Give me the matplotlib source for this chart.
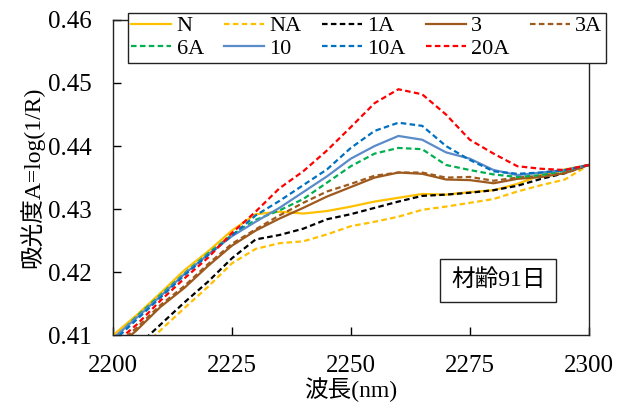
import matplotlib

matplotlib.use("Agg")
import matplotlib.pyplot as plt

SERIF_CJK = ["Liberation Serif", "Noto Sans CJK JP"]
plt.rcParams["font.family"] = SERIF_CJK

wavelength = [2200, 2205, 2210, 2215, 2220, 2225, 2230, 2235, 2240, 2245, 2250,
              2255, 2260, 2265, 2270, 2275, 2280, 2285, 2290, 2295, 2300]

abs_N = [0.4100, 0.4132, 0.4167, 0.4203, 0.4233, 0.4266, 0.4292, 0.4296, 0.4293, 0.4297, 0.4304,
         0.4312, 0.4318, 0.4324, 0.4323, 0.4327, 0.4330, 0.4340, 0.4354, 0.4363, 0.4370]
abs_NA = [0.4038, 0.4072, 0.4108, 0.4143, 0.4177, 0.4214, 0.4237, 0.4246, 0.4249, 0.4260, 0.4273,
          0.4280, 0.4288, 0.4299, 0.4304, 0.4310, 0.4316, 0.4328, 0.4338, 0.4347, 0.4370]
abs_1A = [0.4047, 0.4082, 0.4117, 0.4152, 0.4185, 0.4222, 0.4252, 0.4259, 0.4269, 0.4284, 0.4292,
          0.4302, 0.4312, 0.4321, 0.4323, 0.4326, 0.4330, 0.4337, 0.4348, 0.4357, 0.4370]
abs_3 = [0.4076, 0.4108, 0.4145, 0.4175, 0.4210, 0.4242, 0.4266, 0.4285, 0.4302, 0.4320, 0.4335,
         0.4350, 0.4358, 0.4356, 0.4347, 0.4346, 0.4341, 0.4348, 0.4351, 0.4357, 0.4370]
abs_3A = [0.4080, 0.4112, 0.4148, 0.4178, 0.4213, 0.4245, 0.4268, 0.4290, 0.4310, 0.4328, 0.4340,
          0.4353, 0.4358, 0.4358, 0.4350, 0.4351, 0.4345, 0.4350, 0.4353, 0.4358, 0.4370]
abs_6A = [0.4093, 0.4130, 0.4164, 0.4198, 0.4230, 0.4259, 0.4283, 0.4298, 0.4316, 0.4342, 0.4368,
          0.4388, 0.4397, 0.4395, 0.4370, 0.4362, 0.4355, 0.4351, 0.4354, 0.4361, 0.4370]
abs_10 = [0.4095, 0.4128, 0.4162, 0.4197, 0.4228, 0.4257, 0.4280, 0.4302, 0.4327, 0.4352, 0.4380,
          0.4400, 0.4416, 0.4410, 0.4390, 0.4380, 0.4362, 0.4354, 0.4358, 0.4362, 0.4370]
abs_10A = [0.4090, 0.4125, 0.4160, 0.4195, 0.4227, 0.4258, 0.4290, 0.4313, 0.4338, 0.4363, 0.4397,
           0.4424, 0.4437, 0.4432, 0.4400, 0.4378, 0.4360, 0.4356, 0.4358, 0.4362, 0.4370]
abs_20A = [0.4085, 0.4117, 0.4155, 0.4190, 0.4223, 0.4262, 0.4296, 0.4333, 0.4360, 0.4393, 0.4430,
           0.4468, 0.4490, 0.4482, 0.4450, 0.4410, 0.4388, 0.4368, 0.4364, 0.4362, 0.4370]

labels = ["N", "NA", "1A", "3", "3A", "6A", "10", "10A", "20A"]
values = [abs_N, abs_NA, abs_1A, abs_3, abs_3A, abs_6A, abs_10, abs_10A, abs_20A]
colors = ["#FFC000", "#FFC000", "#000000", "#9E5A1E", "#9E5A1E",
          "#00B050", "#5B8BC9", "#0070C0", "#FF0000"]
dashed = [False, True, True, False, True, True, False, True, True]

fig = plt.figure(figsize=(6.27, 4.05), dpi=100)
ax = fig.add_axes([0.180, 0.172, 0.759, 0.779])

handles = []
for name, ys, col, dash in zip(labels, values, colors, dashed):
    ls = (0, (2.5, 1.5)) if dash else "-"
    (line,) = ax.plot(wavelength, ys, color=col, lw=1.6, ls=ls, label=name)
    handles.append(line)

ax.set_xlim(2200, 2300)
ax.set_ylim(0.41, 0.46)
ax.set_xticks([2200, 2225, 2250, 2275, 2300])
ax.set_xticklabels(["2200", "2225", "2250", "2275", "2300"])
ax.set_yticks([0.41, 0.42, 0.43, 0.44, 0.45, 0.46])
ax.set_yticklabels(["0.41", "0.42", "0.43", "0.44", "0.45", "0.46"])
ax.tick_params(direction="in", length=6, width=1, labelsize=18)
ax.tick_params(axis="y", pad=15)
ax.tick_params(axis="x", pad=14)
for lab in ax.get_xticklabels() + ax.get_yticklabels():
    lab.set_family(SERIF_CJK)
for sp in ax.spines.values():
    sp.set_linewidth(1.0)
    sp.set_color("#222222")

ax.set_xlabel("波長(nm)", fontsize=17, labelpad=0)
ax.set_ylabel("吸光度A=log(1/R)", fontsize=17, labelpad=3)

ax.text(0.81, 0.175, "材齢91日", transform=ax.transAxes, fontsize=17,
        ha="center", va="center",
        bbox=dict(boxstyle="square,pad=0.45", fc="white", ec="#222222", lw=1.0))

# legend fills column by column, so interleave to read row by row
ncol = 5
order = [0, 5, 1, 6, 2, 7, 3, 8, 4]
leg = fig.legend([handles[i] for i in order], [labels[i] for i in order],
                 loc="upper left", bbox_to_anchor=(0.204, 0.969), ncol=ncol,
                 fontsize=16, frameon=True, fancybox=False, handlelength=1.8,
                 handletextpad=0.25, columnspacing=0.9, borderpad=0.15,
                 labelspacing=0.1, borderaxespad=0)
leg.get_frame().set_edgecolor("#222222")
leg.get_frame().set_linewidth(1.0)
leg.get_frame().set_alpha(1)

fig.savefig("out.png", dpi=100)
